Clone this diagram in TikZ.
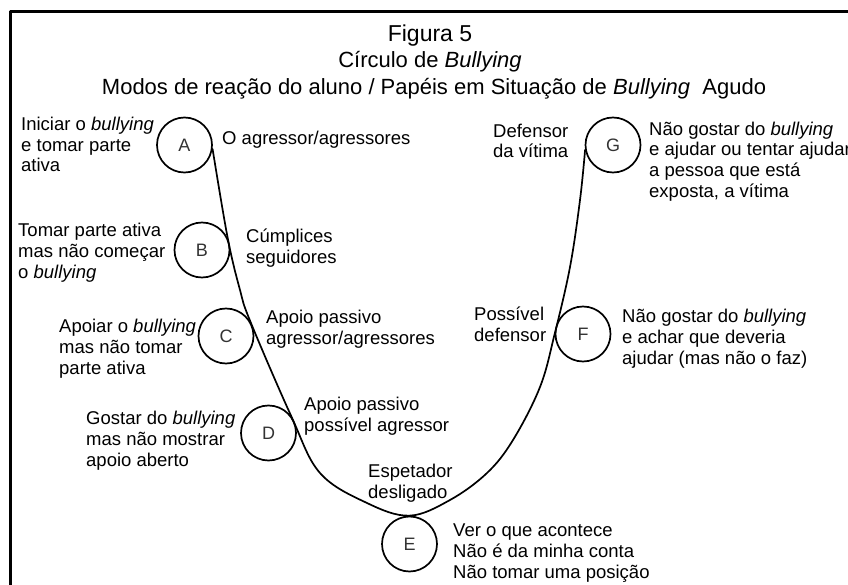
\documentclass[tikz,border=0pt]{standalone}
\usepackage{fontspec}
\setmainfont{Liberation Sans}
\begin{document}
\begin{tikzpicture}[x=1pt, y=-1pt, line join=round, line cap=round,
    role/.style={circle, draw, line width=1.7pt, minimum size=55pt, inner sep=0pt,
      text=black!80, font=\fontsize{18}{21}\selectfont},
    lbl/.style={anchor=base west, align=left, inner sep=0pt,
      font=\fontsize{18.5}{20.8}\selectfont},
    ttl/.style={anchor=base, inner sep=0pt}]
      \useasboundingbox (0,0) rectangle (848,585);

      % frame
      \draw[line width=3pt, line cap=butt] (10,585) -- (10,12) -- (848,12);

      % titles
      \node[ttl, font=\fontsize{23}{27}\selectfont] (fig) at (430,42) {Figura 5};
      \node[ttl, font=\fontsize{22}{25}\selectfont] (circulo) at (430,68) {Círculo de \textit{Bullying}};
      \node[ttl, font=\fontsize{22}{25}\selectfont] (modos) at (434,95)
        {Modos de reação do aluno / Papéis em Situação de \textit{Bullying}\ \ Agudo};

      % roles
      \node[role] (A) at (184.5,145) {A};
      \node[role] (B) at (202,250) {B};
      \node[role] (C) at (226,336) {C};
      \node[role] (D) at (268.5,433) {D};
      \node[role] (E) at (409.5,544) {E};
      \node[role] (F) at (583,334) {F};
      \node[role] (G) at (613,145) {G};

      \draw[line width=1.7pt] plot[smooth, tension=0.6] coordinates {(A.-8) (B.25) (240,290)
        (C.31) (D.37) (320,473) (367,503) (E.north) (450,500) (487,473) (513,440)
        (540,387) (F.west) (570,267) (580,200) (G.190)};

      % left side (base = last line)
      \node[lbl] (modoA) at (21,172) {Iniciar o \textit{bullying}\\e tomar parte\\ativa};
      \node[lbl] (modoB) at (18,278.5) {Tomar parte ativa\\mas não começar\\o \textit{bullying}};
      \node[lbl] (modoC) at (59,374.5) {Apoiar o \textit{bullying}\\mas não tomar\\parte ativa};
      \node[lbl] (modoD) at (86,466.5) {Gostar do \textit{bullying}\\mas não mostrar\\apoio aberto};

      % roles along the curve
      \node[lbl] (papelA) at (222,145) {O agressor/agressores};
      \node[lbl] (papelB) at (246,263) {Cúmplices\\seguidores};
      \node[lbl] (papelC) at (266,344) {Apoio passivo\\agressor/agressores};
      \node[lbl] (papelD) at (304,431) {Apoio passivo\\possível agressor};
      \node[lbl] (papelE) at (368,498) {Espetador\\desligado};
      \node[lbl] (papelF) at (474,341) {Possível\\defensor};
      \node[lbl] (papelG) at (493,158) {Defensor\\da vítima};

      % right side
      \node[lbl] (modoE) at (453,578.5) {Ver o que acontece\\Não é da minha conta\\Não tomar uma posição};
      \node[lbl] (modoF) at (622,364.5) {Não gostar do \textit{bullying}\\e achar que deveria\\ajudar (mas não o faz)};
      \node[lbl] (modoG) at (649,197.5) {Não gostar do \textit{bullying}\\e ajudar ou tentar ajudar\\a pessoa que está\\exposta, a vítima};
    \end{tikzpicture}
\end{document}
